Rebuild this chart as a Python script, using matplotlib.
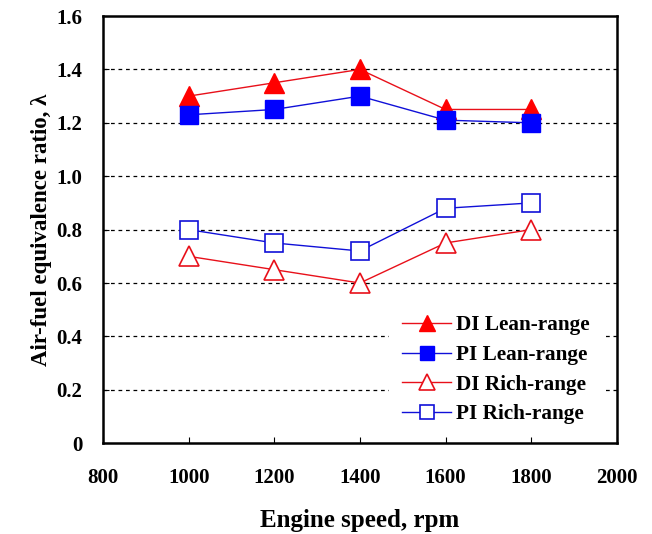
import matplotlib
matplotlib.use("Agg")
import matplotlib.pyplot as plt
from matplotlib.ticker import FuncFormatter

# engine speed, rpm
speed = [1000, 1200, 1400, 1600, 1800]

# air-fuel equivalence ratio limits
di_lean = [1.30, 1.35, 1.40, 1.25, 1.25]
pi_lean = [1.23, 1.25, 1.30, 1.21, 1.20]
di_rich = [0.70, 0.65, 0.60, 0.75, 0.80]
pi_rich = [0.80, 0.75, 0.72, 0.88, 0.90]

plt.rcParams['font.family'] = ['Liberation Serif', 'DejaVu Serif']
plt.rcParams['font.weight'] = 'bold'

fig = plt.figure(figsize=(6.52, 5.34), dpi=100)
ax = fig.add_axes([0.158, 0.170, 0.788, 0.800])

red = '#e8101a'
blue = '#1010d8'

ax.plot(speed, di_lean, color=red, lw=1, marker='^', ms=14,
        mfc='red', mec='red', label='DI Lean-range', zorder=3)
ax.plot(speed, pi_lean, color=blue, lw=1, marker='s', ms=13,
        mfc='blue', mec='blue', label='PI Lean-range', zorder=3)
ax.plot(speed, di_rich, color=red, lw=1, marker='^', ms=14,
        mfc='white', mec=red, mew=1.2, label='DI Rich-range', zorder=3)
ax.plot(speed, pi_rich, color=blue, lw=1, marker='s', ms=13,
        mfc='white', mec=blue, mew=1.2, label='PI Rich-range', zorder=3)

ax.set_xlim(800, 2000)
ax.set_ylim(0, 1.6)
ax.set_xticks(range(800, 2001, 200))
ax.set_yticks([0, 0.2, 0.4, 0.6, 0.8, 1.0, 1.2, 1.4, 1.6])
ax.yaxis.set_major_formatter(FuncFormatter(lambda v, p: '0' if v == 0 else f'{v:.1f}'))

for y in [0.2, 0.4, 0.6, 0.8, 1.0, 1.2, 1.4]:
    ax.axhline(y, color='black', lw=0.9, ls=(0, (3, 3)), zorder=1)

ax.tick_params(direction='in', length=4, width=0.8, labelsize=15)
ax.tick_params(axis='x', pad=18)
ax.tick_params(axis='y', pad=15)
for s in ax.spines.values():
    s.set_linewidth(1.8)

ax.set_xlabel('Engine speed, rpm', fontsize=18, fontweight='bold', labelpad=15)
ax.set_ylabel('Air-fuel equivalence ratio, λ', fontsize=16.5, fontweight='bold', labelpad=3)

# legend sits on a white patch that hides the grid behind it
leg = ax.legend(loc='lower right', bbox_to_anchor=(0.985, 0.0), frameon=True,
                fancybox=False, facecolor='white', edgecolor='none', framealpha=1,
                fontsize=15.3, handlelength=2.3, labelspacing=0.45, handletextpad=0.25,
                markerscale=0.8, borderpad=0.6, borderaxespad=0.3)
leg.set_zorder(4)

fig.savefig('out.png', dpi=100)
